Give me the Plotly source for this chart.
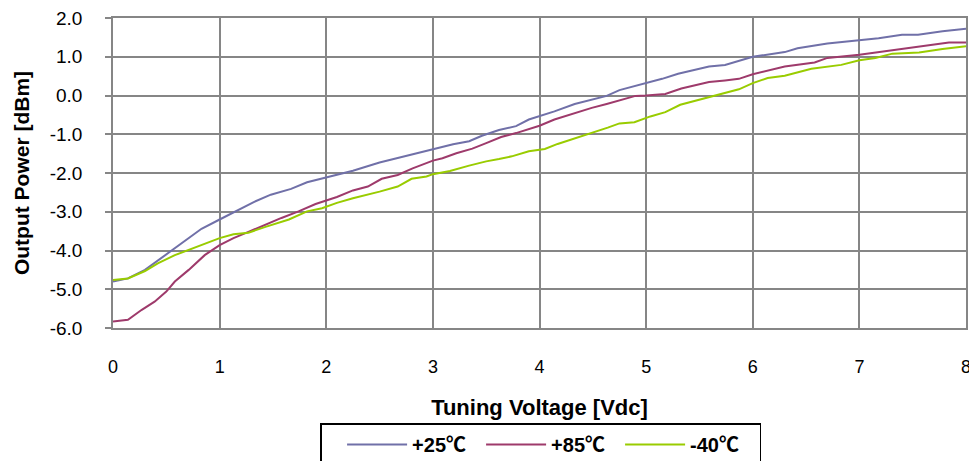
import plotly.graph_objects as go

# +25 C
v25 = [0.0, 0.14, 0.30, 0.55, 0.83, 1.0, 1.17, 1.32, 1.48, 1.67, 1.82, 2.0, 2.25, 2.5, 2.75,
       3.0, 3.19, 3.34, 3.46, 3.62, 3.78, 3.9, 4.0, 4.14, 4.33, 4.49, 4.63, 4.75, 4.86, 5.0,
       5.15, 5.30, 5.46, 5.59, 5.74, 5.87, 6.0, 6.3, 6.42, 6.7, 7.0, 7.18, 7.4, 7.55, 7.78, 8.0]
p25 = [-4.80, -4.72, -4.50, -3.99, -3.44, -3.20, -2.95, -2.75, -2.56, -2.41, -2.24, -2.12, -1.94, -1.73, -1.56,
       -1.38, -1.26, -1.18, -1.04, -0.89, -0.79, -0.62, -0.54, -0.41, -0.22, -0.10, -0.01, 0.14, 0.22, 0.32,
       0.43, 0.56, 0.67, 0.75, 0.79, 0.90, 1.00, 1.12, 1.22, 1.34, 1.43, 1.48, 1.57, 1.57, 1.66, 1.72]

# +85 C
v85 = [0.0, 0.14, 0.27, 0.39, 0.50, 0.58, 0.71, 0.86, 1.0, 1.13, 1.27, 1.43, 1.58, 1.74, 1.9,
       2.1, 2.25, 2.39, 2.52, 2.67, 2.81, 3.0, 3.09, 3.22, 3.37, 3.5, 3.64, 3.78, 3.9, 4.0,
       4.14, 4.33, 4.49, 4.63, 4.77, 4.9, 5.0, 5.18, 5.33, 5.46, 5.59, 5.74, 5.87, 6.0, 6.3,
       6.58, 6.7, 7.0, 7.18, 7.4, 7.62, 7.84, 8.0]
p85 = [-5.83, -5.79, -5.53, -5.32, -5.06, -4.80, -4.50, -4.12, -3.86, -3.68, -3.52, -3.33, -3.16, -2.99, -2.80,
       -2.62, -2.45, -2.35, -2.15, -2.05, -1.88, -1.68, -1.62, -1.49, -1.37, -1.23, -1.07, -0.97, -0.87, -0.78,
       -0.62, -0.45, -0.32, -0.22, -0.11, -0.01, 0.00, 0.04, 0.18, 0.27, 0.35, 0.39, 0.43, 0.55, 0.75,
       0.85, 0.97, 1.05, 1.12, 1.21, 1.28, 1.37, 1.37]

# -40 C
vm40 = [0.0, 0.14, 0.30, 0.42, 0.58, 0.77, 1.0, 1.13, 1.27, 1.43, 1.65, 1.82, 1.96, 2.1, 2.25,
        2.5, 2.67, 2.8, 2.94, 3.0, 3.16, 3.34, 3.5, 3.62, 3.74, 3.9, 4.05, 4.17, 4.33, 4.51,
        4.64, 4.75, 4.89, 5.04, 5.18, 5.32, 5.46, 5.59, 5.74, 5.87, 6.0, 6.14, 6.3, 6.55, 6.83,
        7.0, 7.15, 7.31, 7.56, 7.78, 8.0]
pm40 = [-4.76, -4.72, -4.53, -4.33, -4.12, -3.93, -3.68, -3.58, -3.54, -3.39, -3.20, -2.99, -2.91, -2.77, -2.65,
        -2.48, -2.35, -2.15, -2.09, -2.03, -1.95, -1.81, -1.70, -1.64, -1.57, -1.44, -1.38, -1.25, -1.11, -0.96,
        -0.83, -0.72, -0.69, -0.54, -0.43, -0.24, -0.14, -0.05, 0.05, 0.16, 0.32, 0.45, 0.51, 0.69, 0.79,
        0.91, 0.97, 1.08, 1.11, 1.20, 1.27]

series_names = ["+25℃", "+85℃", "-40℃"]
series_colors = ["#7070A8", "#9E3A6B", "#99CC00"]

x_ticks = [0, 1, 2, 3, 4, 5, 6, 7, 8]
y_ticks = [2.0, 1.0, 0.0, -1.0, -2.0, -3.0, -4.0, -5.0, -6.0]
y_ticktext = ["2.0", "1.0", "0.0", "-1.0", "-2.0", "-3.0", "-4.0", "-5.0", "-6.0"]

fig = go.Figure()
for xs, ys, name, col in zip([v25, v85, vm40], [p25, p85, pm40], series_names, series_colors):
    fig.add_trace(go.Scatter(x=xs, y=ys, mode="lines", name=name,
                             line=dict(color=col, width=2)))

grid = "#868686"
font_family = "Liberation Sans, Arial, Noto Sans CJK SC, sans-serif"

fig.update_layout(
    width=969, height=469,
    margin=dict(l=113, r=3, t=18, b=134),
    plot_bgcolor="white", paper_bgcolor="white",
    font=dict(family=font_family, color="black", size=18),
    showlegend=True,
    legend=dict(
        orientation="h", x=0.2427, xanchor="left", y=-0.308, yanchor="top",
        bordercolor="black", borderwidth=1.5,
        font=dict(family=font_family, size=20, color="black", weight="bold"),
        entrywidth=64, entrywidthmode="pixels",
        itemwidth=60,
        title=dict(text="&nbsp;&nbsp;", side="left",
                   font=dict(family=font_family, size=19)),
        bgcolor="white",
    ),
    xaxis=dict(
        range=[0, 8], tickvals=x_ticks, ticktext=[str(v) for v in x_ticks],
        showgrid=True, gridcolor=grid, gridwidth=1.5,
        showline=True, linecolor=grid, linewidth=1.5, mirror=True,
        ticks="", ticklabelstandoff=22, ticklabeloverflow="allow",
        tickfont=dict(size=18),
        zeroline=False, automargin=False,
        title=dict(text="Tuning Voltage [Vdc]", standoff=23,
                   font=dict(size=22, weight="bold")),
    ),
    yaxis=dict(
        range=[-6, 2], tickvals=y_ticks, ticktext=y_ticktext,
        showgrid=True, gridcolor=grid, gridwidth=1.5,
        showline=True, linecolor=grid, linewidth=1.5, mirror=True,
        ticks="outside", ticklen=6, tickcolor=grid, tickwidth=1.5,
        ticklabelstandoff=19, ticklabeloverflow="allow",
        tickfont=dict(size=19),
        zeroline=False, automargin=False,
        title=dict(text="Output Power [dBm]", standoff=14,
                   font=dict(size=21, weight="bold")),
    ),
)

fig.write_html("out.html",
               config={"displayModeBar": False},
               post_script="document.body.style.margin='0';document.body.style.overflow='hidden';")
